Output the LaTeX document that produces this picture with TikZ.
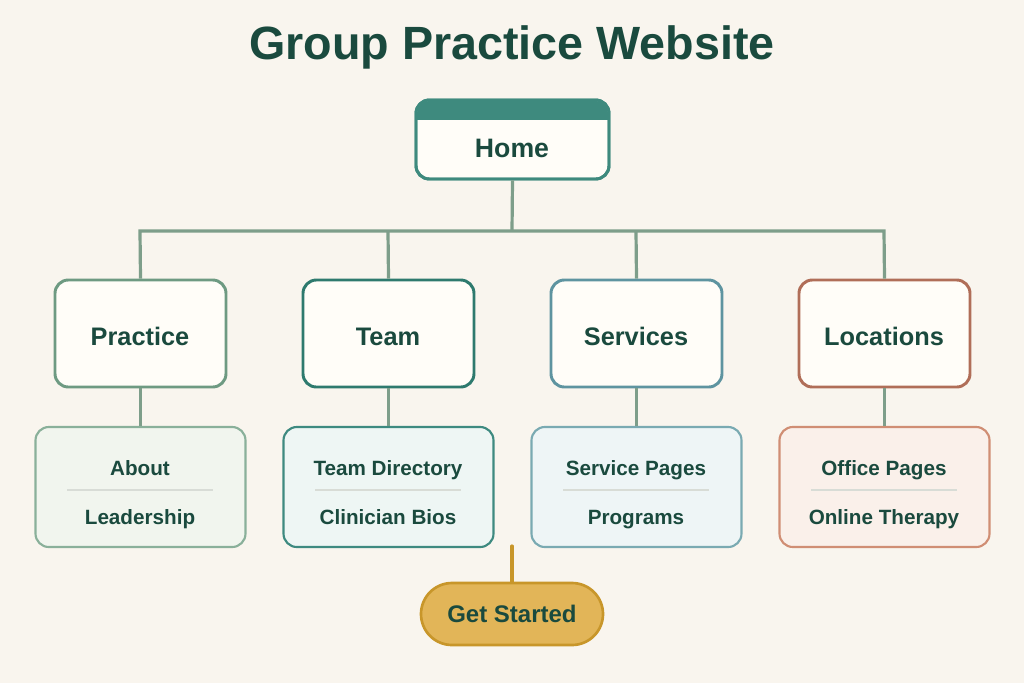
\documentclass[tikz,border=0pt]{standalone}
\usepackage{fontspec}
\setmainfont{Liberation Sans}
\definecolor{bg}{HTML}{F9F5EE}
\definecolor{ink}{HTML}{1A4A3E}
\definecolor{wire}{HTML}{7E9E8A}
\definecolor{cardfill}{HTML}{FFFDF8}
\definecolor{homeC}{HTML}{3E8A7E}
\definecolor{pC}{HTML}{6E9A82}\definecolor{pF}{HTML}{F1F5EE}\definecolor{pB}{HTML}{8AB09A}
\definecolor{tC}{HTML}{2E7A6E}\definecolor{tF}{HTML}{EEF6F4}\definecolor{tB}{HTML}{3E8A80}
\definecolor{sC}{HTML}{5E94A0}\definecolor{sF}{HTML}{EEF5F6}\definecolor{sB}{HTML}{7AAAB2}
\definecolor{lC}{HTML}{B06E58}\definecolor{lF}{HTML}{FAF0EA}\definecolor{lB}{HTML}{D08E74}
\definecolor{gF}{HTML}{E2B558}\definecolor{gB}{HTML}{C8962A}
\definecolor{divc}{HTML}{D8DCD6}
\begin{document}
\begin{tikzpicture}[x=0.75pt,y=-0.75pt,
 cat/.style={draw=#1,line width=2.2pt,fill=cardfill,rounded corners=10pt,minimum width=171*0.75pt,minimum height=107*0.75pt,inner sep=0pt,font=\fontsize{19}{20}\selectfont\bfseries,text=ink},
 sub/.style={draw=#1,line width=1.6pt,rounded corners=10pt,minimum width=210*0.75pt,minimum height=120*0.75pt,inner sep=0pt},
 lbl/.style={font=\fontsize{15.5}{16}\selectfont\bfseries,text=ink,anchor=base},
 wire/.style={draw=wire,line width=2.4pt}]
\fill[bg] (0,0) rectangle (1024,683);
\node[font=\fontsize{35}{38}\selectfont\bfseries,text=ink,anchor=base] (title) at (512,59) {Group Practice Website};
% home
\node[draw=homeC,line width=2.2pt,fill=cardfill,rounded corners=10pt,minimum width=193*0.75pt,minimum height=79*0.75pt] (home) at (512.5,139.5) {};
\begin{scope}
\clip[rounded corners=9pt] (417,101) rectangle (608,178);
\fill[homeC] (417,101) rectangle (608,120);
\end{scope}
\draw[homeC,line width=2.2pt,rounded corners=10pt] (416,100) rectangle (609,179);
\node[font=\fontsize{20}{22}\selectfont\bfseries,text=ink,anchor=base] (hl) at (512,157) {Home};
% categories
\node[cat=pC] (p) at (140.5,333.5) {};
\node[cat=tC] (t) at (388.5,333.5) {};
\node[cat=sC] (s) at (636.5,333.5) {};
\node[cat=lC] (l) at (884.5,333.5) {};
\foreach \x/\n/\t in {140/p/Practice,388/t/Team,636/s/Services,884/l/Locations}
 \node[font=\fontsize{19}{20}\selectfont\bfseries,text=ink,anchor=base] (\n l) at (\x,345) {\t};
\coordinate (bus) at (512,231);
\draw[wire] (home.south) -- (bus);
\draw[wire] (p.north) -- (140,231) -- (884,231) -- (l.north);
\draw[wire] (t.north) -- (388,231);
\draw[wire] (s.north) -- (636,231);
% subs
\node[sub=pB,fill=pF] (ps) at (140.5,487) {};
\node[sub=tB,fill=tF] (ts) at (388.5,487) {};
\node[sub=sB,fill=sF] (ss) at (636.5,487) {};
\node[sub=lB,fill=lF] (ls) at (884.5,487) {};
\foreach \a/\b in {p/ps,t/ts,s/ss,l/ls} \draw[wire] (\a.south) -- (\b.north);
\foreach \x/\n/\u/\v in {140/p/About/Leadership,388/t/Team Directory/Clinician Bios,636/s/Service Pages/Programs,884/l/Office Pages/Online Therapy}{
 \node[lbl] (\n a) at (\x,475) {\u};
 \node[lbl] (\n b) at (\x,524) {\v};
 \draw[divc,line width=1.2pt] (\x-73,490) -- (\x+73,490);
}
% get started
\node[draw=gB,fill=gF,line width=2pt,rounded corners=31*0.75pt,minimum width=182*0.75pt,minimum height=62*0.75pt] (gs) at (512,614) {};
\node[font=\fontsize{18}{20}\selectfont\bfseries,text=ink,anchor=base] (gsl) at (512,622) {Get Started};
\coordinate (gtop) at (512,546);
\draw[gB,line width=2.4pt,line cap=round] (gtop) -- (gs.north);
\end{tikzpicture}
\end{document}
